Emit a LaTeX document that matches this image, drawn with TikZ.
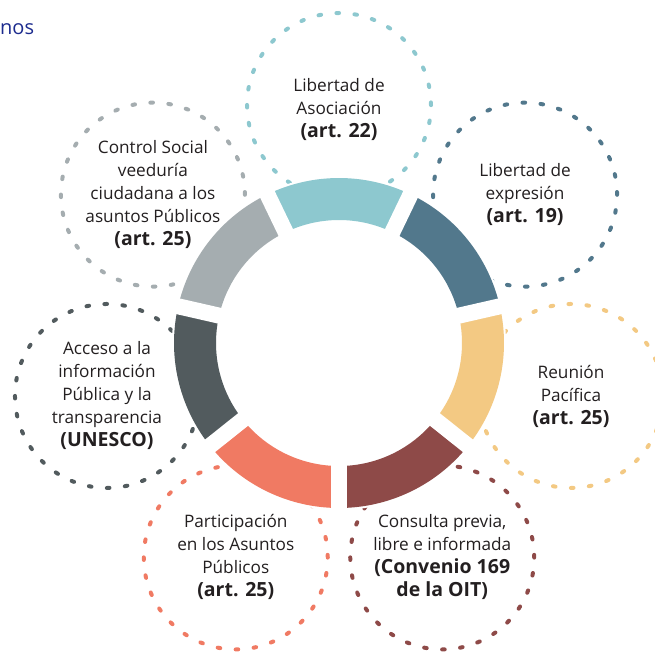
\documentclass[tikz,border=0pt]{standalone}
\usepackage{fontspec}
\setmainfont{Open Sans}
\definecolor{cTeal}{HTML}{8DC8CF}
\definecolor{cBlue}{HTML}{52788C}
\definecolor{cYellow}{HTML}{F3C983}
\definecolor{cWine}{HTML}{8E4A48}
\definecolor{cSalmon}{HTML}{F07A63}
\definecolor{cSlate}{HTML}{525B5E}
\definecolor{cGrey}{HTML}{A5ADB0}
\definecolor{txt}{HTML}{231F20}
\definecolor{navy}{HTML}{1C2B8E}
\newcommand{\artref}[1]{{\fontsize{19.5}{24}\selectfont\bfseries #1}}

\begin{document}
\begin{tikzpicture}[x=1pt,y=1pt,
    lbl/.style={align=center,text=txt,font=\fontsize{17.2}{23}\selectfont},
    dots/.style={line width=4pt,line cap=round,dash pattern=on 2.6pt off 15.46pt}]
	\useasboundingbox (-339,-311) rectangle (316,343);
	\node[anchor=base west,inner xsep=0pt,text=navy,font=\fontsize{20}{24}\selectfont] (head) at (-339,308) {nos};
	% dotted rings
	\foreach \a/\c in {90/cTeal,38.57/cBlue,-12.86/cYellow,-64.29/cWine,-115.71/cSalmon,192.86/cSlate,141.43/cGrey}
		\draw[dots,\c] (\a:238) circle[radius=92];
	% centre ring
	\fill[white] (0,0) circle[radius=167];
	\foreach \a/\c in {90/cTeal,38.57/cBlue,-12.86/cYellow,-64.29/cWine,-115.71/cSalmon,192.86/cSlate,141.43/cGrey}
		\fill[\c] (\a-25.72:165) arc[start angle=\a-25.72,end angle=\a+25.72,radius=165]
			-- (\a+25.72:123) arc[start angle=\a+25.72,end angle=\a-25.72,radius=123] -- cycle;
	\foreach \k in {0,...,6}
		\draw[white,line width=16pt] (-90+\k*51.4286:115) -- (-90+\k*51.4286:168);
	% labels
	\node[lbl] (asoc) at (90:233) {Libertad de\\Asociación\\\artref{(art. 22)}};
	\node[lbl] (expr) at (38.57:238) {Libertad de\\expresión\\\artref{(art. 19)}};
	\node[lbl] (reun) at (-12.86:238) {Reunión\\Pacífica\\\artref{(art. 25)}};
	\node[lbl] (cons) at (-64.29:238) {Consulta previa,\\libre e informada\\\artref{(Convenio 169}\\\artref{de la OIT)}};
	\node[lbl] (part) at (-115.71:238) {Participación\\en los Asuntos\\Públicos\\\artref{(art. 25)}};
	\node[lbl] (acce) at (192.86:238) {Acceso a la\\información\\Pública y la\\transparencia\\\artref{(UNESCO)}};
	\node[lbl] (ctrl) at (141.43:238) {Control Social\\veeduría\\ciudadana a los\\asuntos Públicos\\\artref{(art. 25)}};
\end{tikzpicture}
\end{document}
